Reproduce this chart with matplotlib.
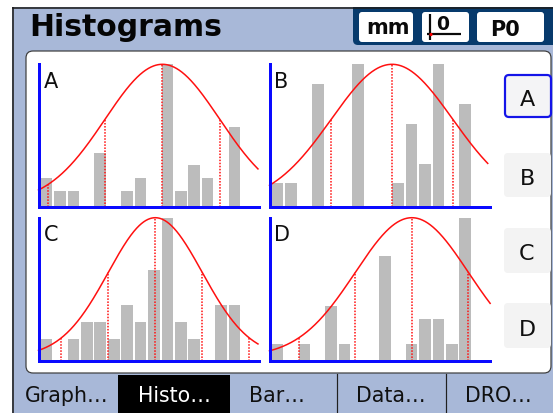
import numpy as np
import matplotlib
matplotlib.use("Agg")
import matplotlib.pyplot as plt
from matplotlib.patches import Rectangle, FancyBboxPatch, Circle

W, H, DPI = 553, 413, 100

# ---------------- data ----------------
bins = list(range(15))
panel_names = ["A", "B", "C", "D"]
counts_A = [2, 1, 1, 0, 4, 0, 1, 2, 0, 11, 1, 3, 2, 0, 6]
counts_B = [1, 1, 0, 6, 0, 0, 7, 0, 0, 1, 4, 2, 7, 0, 5]
counts_C = [1, 0, 1, 2, 2, 1, 3, 2, 5, 8, 2, 1, 0, 3, 3]
counts_D = [1, 0, 1, 0, 4, 1, 0, 0, 8, 0, 1, 3, 3, 1, 11]
means = [8.63, 8.54, 8.10, 10.02]
sigmas = [4.26, 4.52, 3.50, 4.22]
curve_end = [15.75, 15.68, 15.75, 15.86]
title = "Histograms"
unit_label = "mm"
probe_label = "P0"
zero_label = "0"
button_labels = ["A", "B", "C", "D"]
tab_labels = ["Graph…", "Histo…", "Bar…", "Data…", "DRO…"]

# ---------------- style ----------------
LB = "#A8B8D8"
NAVY = "#073A6C"
FRAME = "#1E1E1E"
BAR = "#BCBCBC"
BLUE = "#0A0AFF"
RED = "#FF1010"
PX = 72.0 / DPI  # points per pixel

plt.rcParams["font.family"] = ["DejaVu Sans"]

fig = plt.figure(figsize=(W / DPI, H / DPI), dpi=DPI)
fig.patch.set_facecolor("white")
bg = fig.add_axes([0, 0, 1, 1])
bg.set_xlim(0, W)
bg.set_ylim(H, 0)
bg.axis("off")

# screen background
bg.add_patch(Rectangle((12, 7), W - 12, H - 7, fc=LB, ec="none", zorder=0))
# navy header block (bottom-left rounded)
bg.add_patch(FancyBboxPatch((353, -12), 220, 57, boxstyle="round,pad=0,rounding_size=5",
                            fc=NAVY, ec="none", zorder=1))
bg.add_patch(Rectangle((0, 0), W, 7, fc="white", ec="none", zorder=2))
# frame lines
bg.plot([12.5, 12.5], [7, H], color=FRAME, lw=1.6 * PX, zorder=3, solid_capstyle="butt")
bg.plot([12, W], [7.5, 7.5], color=FRAME, lw=1.6 * PX, zorder=3, solid_capstyle="butt")

# header boxes
for (x0, x1) in [(359, 413), (422, 469), (477, 544)]:
    bg.add_patch(FancyBboxPatch((x0, 12), x1 - x0, 30, boxstyle="round,pad=0,rounding_size=3",
                                fc="white", ec="none", zorder=3))
bg.text(29, 36, title, fontsize=21.5, fontweight="bold", color="#050505",
        ha="left", va="baseline", zorder=4)
bg.text(388, 33.5, unit_label, fontsize=15, fontweight="bold", color="#0A0A0A",
        ha="center", va="baseline", zorder=4)
bg.text(505, 36.5, probe_label, fontsize=15, fontweight="bold", color="#0A0A0A",
        ha="center", va="baseline", zorder=4)
bg.text(443, 30.5, zero_label, fontsize=13.5, fontweight="bold", color="#0A0A0A",
        ha="center", va="baseline", zorder=4)
bg.plot([430, 430], [13.5, 39.5], color="#0A0A0A", lw=2.2 * PX, zorder=4, solid_capstyle="butt")
bg.plot([427, 461], [33.5, 33.5], color="#0A0A0A", lw=2.2 * PX, zorder=4, solid_capstyle="butt")
bg.add_patch(Circle((431, 34.5), 1.6, fc="#FF0000", ec="none", zorder=5))

# main white panel
bg.add_patch(FancyBboxPatch((26, 51), 551 - 26, 373 - 51, boxstyle="round,pad=0,rounding_size=7",
                            fc="white", ec="#3C3C3C", lw=1.2 * PX, zorder=3))

# right-hand selector buttons
btn_rows = [(74, 118), (153, 197), (228, 273), (303, 348)]
btn_base = [106.5, 185, 260, 336]
for i, ((y0, y1), lab) in enumerate(zip(btn_rows, button_labels)):
    if i == 0:
        bg.add_patch(FancyBboxPatch((505, y0 + 1), 46, y1 - y0 - 2,
                                    boxstyle="round,pad=0,rounding_size=4",
                                    fc="#F4F4F6", ec="#1414E8", lw=2.2 * PX, zorder=4))
    else:
        bg.add_patch(FancyBboxPatch((504, y0), 47, y1 - y0,
                                    boxstyle="round,pad=0,rounding_size=4",
                                    fc="#F3F3F3", ec="none", zorder=4))
    bg.text(527, btn_base[i], lab, fontsize=16, color="#101010",
            ha="center", va="baseline", zorder=5)

# bottom tabs
bg.add_patch(Rectangle((118, 375), 112, H - 375, fc="black", ec="none", zorder=3))
for xs in [337, 446]:
    bg.plot([xs, xs], [374, H], color="#202020", lw=1.2 * PX, zorder=4)
tab_centers = [67, 174, 277, 391, 498]
for i, (cx, lab) in enumerate(zip(tab_centers, tab_labels)):
    bg.text(cx, 401.5, lab, fontsize=14.8, color="white" if i == 1 else "#101010",
            ha="center", va="baseline", zorder=5)

# ---------------- histograms ----------------
col_l = [38.5, 269.5]
col_r = [259.3, 490.0]
row_t = [64.3, 217.7]
row_b = [207.3, 360.7]
all_counts = [counts_A, counts_B, counts_C, counts_D]
label_pos = [(44, 88), (274, 88), (44, 241), (274, 241)]
xlim = (-0.6, 15.85)

for i, counts in enumerate(all_counts):
    r, c = divmod(i, 2)
    l, rt, t, b = col_l[c], col_r[c], row_t[r], row_b[r]
    ax = fig.add_axes([l / W, 1 - b / H, (rt - l) / W, (b - t) / H])
    ax.patch.set_alpha(0)
    top = max(counts)
    y0 = -0.0288 * top
    ax.set_xlim(*xlim)
    ax.set_ylim(y0, top)
    heights = [(v - y0) if v > 0 else 0 for v in counts]
    ax.bar(bins, heights, bottom=y0, width=0.87, color=BAR, edgecolor="none", zorder=1)
    mu, sd = means[i], sigmas[i]
    xs = np.linspace(xlim[0], curve_end[i], 500)
    ys = top * np.exp(-0.5 * ((xs - mu) / sd) ** 2)
    ax.plot(xs, ys, color=RED, lw=1.1, zorder=3, clip_on=False)
    for k in (-2, -1, 0, 1, 2):
        xv = mu + k * sd
        if xlim[0] < xv < xlim[1]:
            ax.vlines(xv, y0, top * np.exp(-0.5 * k * k), color=RED,
                      linestyles=(0, (1, 1)), lw=1.1, zorder=2)
    for s in ("top", "right"):
        ax.spines[s].set_visible(False)
    for s in ("left", "bottom"):
        ax.spines[s].set_color(BLUE)
        ax.spines[s].set_linewidth(3 * PX)
        ax.spines[s].set_zorder(4)
    ax.set_xticks([])
    ax.set_yticks([])
    bg.text(label_pos[i][0], label_pos[i][1], panel_names[i], fontsize=15,
            color="#101010", ha="left", va="baseline", zorder=6)

fig.savefig("out.png", dpi=DPI)
